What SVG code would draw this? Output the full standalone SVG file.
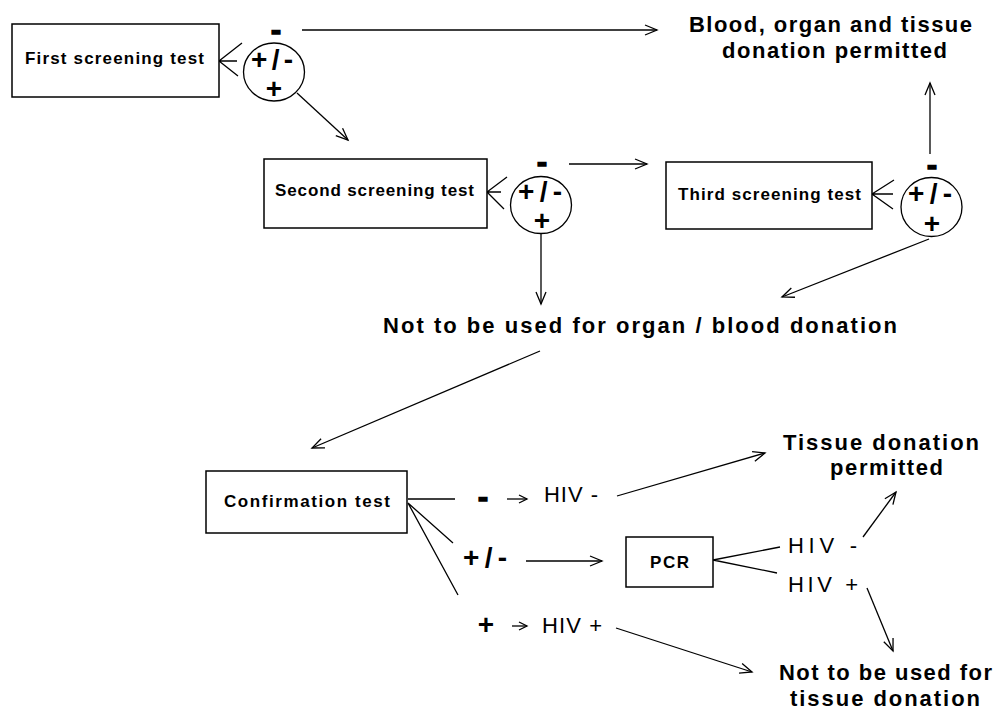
<svg xmlns="http://www.w3.org/2000/svg" width="993" height="712" viewBox="0 0 993 712">
<style>
.box{fill:#fff;stroke:#000;stroke-width:1.5}
.ring{fill:#fff;stroke:#000;stroke-width:1.3}
.ln{fill:none;stroke:#000;stroke-width:1.3}
.arr{marker-end:url(#ah)}
.arrs{marker-end:url(#ahs)}
text{font-family:"Liberation Sans",Arial,Helvetica,sans-serif;fill:#000}
.bt{font-weight:bold;font-size:17px;text-anchor:middle}
.big{font-weight:bold;font-size:22px;text-anchor:middle}
.hiv{font-size:22px}
.sg{font-weight:bold;font-size:28px}
.dash{font-weight:bold;font-size:30px;text-anchor:middle;stroke:#000;stroke-width:1.6}
</style>
<defs>
<marker id="ah" markerUnits="userSpaceOnUse" markerWidth="16" markerHeight="14" refX="13" refY="6" orient="auto"><path d="M1,1 L13,6 L1,11" fill="none" stroke="#000" stroke-width="1.3"/></marker>
<marker id="ahs" markerUnits="userSpaceOnUse" markerWidth="12" markerHeight="12" refX="9" refY="5" orient="auto"><path d="M1,1 L9,5 L1,9" fill="none" stroke="#000" stroke-width="1.3"/></marker>
</defs>

<g id="connectors">
<path class="ln arr" d="M302,30 L657,30"/>
<path class="ln arr" d="M297,93 L348,140"/>
<path class="ln" d="M242,43 L219,61 L238,76 M237,61 L219,61"/>
<path class="ln arr" d="M569,164 L647,164"/>
<path class="ln" d="M507,177 L487,192 L504,209 M501,192 L487,192"/>
<path class="ln arr" d="M541,234 L541,304"/>
<path class="ln arr" d="M930,154 L930,83"/>
<path class="ln" d="M894,180 L872,194 L893,209 M893,194 L872,194"/>
<path class="ln arr" d="M929,239 L782,297"/>
<path class="ln arr" d="M540,351 L312,448"/>
<path class="ln" d="M408,499 L455,499 M408,503 L453,543 M408,503 L458,595"/>
<path class="ln arrs" d="M507,499 L527,499"/>
<path class="ln arrs" d="M512,626 L527,626"/>
<path class="ln arr" d="M526,561 L602,561"/>
<path class="ln arr" d="M617,496 L765,453"/>
<path class="ln arr" d="M616,628 L752,672"/>
<path class="ln" d="M713,560 L780,547 M713,560 L777,573"/>
<path class="ln arr" d="M863,537 L896,492"/>
<path class="ln arr" d="M867,588 L893,651"/>
</g>

<g id="first">
<rect class="box" x="12" y="24" width="207" height="73"/>
<text class="bt" x="114.5" y="64" textLength="179" lengthAdjust="spacing">First screening test</text>
</g>
<g id="result1">
<ellipse class="ring" cx="274" cy="72" rx="30.5" ry="29"/>
<text class="dash" x="276" y="40">-</text>
<text class="sg" x="251" y="69" textLength="42" lengthAdjust="spacing">+/-</text>
<text class="sg" x="274" y="98" text-anchor="middle">+</text>
</g>

<g id="second">
<rect class="box" x="264" y="159" width="223" height="69"/>
<text class="bt" x="374.5" y="196" textLength="199" lengthAdjust="spacing">Second screening test</text>
</g>
<g id="result2">
<ellipse class="ring" cx="541" cy="205" rx="30.5" ry="28.5"/>
<text class="dash" x="542" y="172">-</text>
<text class="sg" x="518" y="201" textLength="44" lengthAdjust="spacing">+/-</text>
<text class="sg" x="542" y="230" text-anchor="middle">+</text>
</g>

<g id="third">
<rect class="box" x="666" y="162" width="206" height="67"/>
<text class="bt" x="769.5" y="200" textLength="183" lengthAdjust="spacing">Third screening test</text>
</g>
<g id="result3">
<ellipse class="ring" cx="931.5" cy="207" rx="30.5" ry="29.5"/>
<text class="dash" x="932" y="175">-</text>
<text class="sg" x="908" y="203" textLength="44" lengthAdjust="spacing">+/-</text>
<text class="sg" x="932" y="233" text-anchor="middle">+</text>
</g>

<g id="permitted-all">
<text class="big" x="830.5" y="32" font-size="20" textLength="283" lengthAdjust="spacing">Blood, organ and tissue</text>
<text class="big" x="834.5" y="58" font-size="20" textLength="225" lengthAdjust="spacing">donation permitted</text>
</g>

<g id="not-organ">
<text class="big" x="640" y="333" font-size="24" textLength="514" lengthAdjust="spacing">Not to be used for organ / blood donation</text>
</g>

<g id="confirmation">
<rect class="box" x="206" y="471" width="201" height="62"/>
<text class="bt" x="307" y="507" font-size="18" textLength="166" lengthAdjust="spacing">Confirmation test</text>
</g>

<g id="conf-neg">
<text class="dash" x="483" y="507">-</text>
<text class="hiv" x="544" y="502" textLength="54" lengthAdjust="spacing">HIV -</text>
</g>
<g id="conf-ind">
<text class="sg" x="463" y="567" textLength="44" lengthAdjust="spacing">+/-</text>
</g>
<g id="conf-pos">
<text class="sg" x="486" y="634" text-anchor="middle">+</text>
<text class="hiv" x="542" y="633" textLength="60" lengthAdjust="spacing">HIV +</text>
</g>

<g id="pcr">
<rect class="box" x="626" y="537" width="87" height="50"/>
<text class="bt" x="669.5" y="568" textLength="39" lengthAdjust="spacing">PCR</text>
</g>
<g id="pcr-neg">
<text class="hiv" x="788" y="553" textLength="69" lengthAdjust="spacing">HIV -</text>
</g>
<g id="pcr-pos">
<text class="hiv" x="788" y="592" textLength="70" lengthAdjust="spacing">HIV +</text>
</g>

<g id="tissue-permitted">
<text class="big" x="881" y="450" textLength="196" lengthAdjust="spacing">Tissue donation</text>
<text class="big" x="886.5" y="475" textLength="113" lengthAdjust="spacing">permitted</text>
</g>

<g id="not-tissue">
<text class="big" x="885.5" y="680" textLength="213" lengthAdjust="spacing">Not to be used for</text>
<text class="big" x="885" y="706" textLength="190" lengthAdjust="spacing">tissue donation</text>
</g>
</svg>
